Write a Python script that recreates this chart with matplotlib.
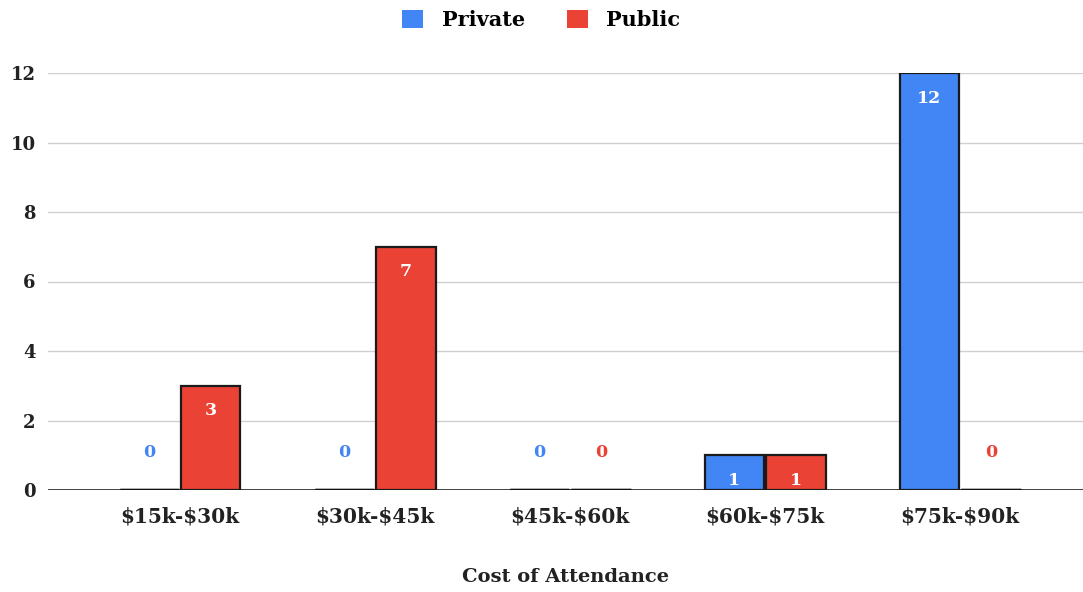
import numpy as np
import matplotlib
matplotlib.use("Agg")
import matplotlib.pyplot as plt

categories = ["$15k-$30k", "$30k-$45k", "$45k-$60k", "$60k-$75k", "$75k-$90k"]
private = [0, 0, 0, 1, 12]
public = [3, 7, 0, 1, 0]

BLUE = "#4285F4"
RED = "#EA4335"

plt.rcParams["font.family"] = ["DejaVu Serif"]
plt.rcParams["font.weight"] = "bold"
plt.rcParams["text.parse_math"] = False

fig = plt.figure(figsize=(10.83, 5.92), dpi=100)
ax = fig.add_axes([48 / 1083, 102 / 592, 1 - 48 / 1083, (490 - 73) / 592])

x = np.arange(len(categories))
w = 0.305
gap = 0.005
bars_priv = ax.bar(x - w / 2 - gap, private, w, color=BLUE, edgecolor="#1a1a1a",
                   linewidth=1.6, label="Private", zorder=3)
bars_pub = ax.bar(x + w / 2 + gap, public, w, color=RED, edgecolor="#1a1a1a",
                  linewidth=1.6, label="Public", zorder=3)

# empty bars show up as a dark stub on the baseline
for bars, vals in [(bars_priv, private), (bars_pub, public)]:
    for b, v in zip(bars, vals):
        if v == 0:
            ax.plot([b.get_x(), b.get_x() + b.get_width()], [0, 0],
                    color="#111111", linewidth=2.5, solid_capstyle="butt", zorder=3)

# value labels: white inside the bar, coloured above an empty bar
for bars, vals, col in [(bars_priv, private, BLUE), (bars_pub, public, RED)]:
    for b, v in zip(bars, vals):
        cx = b.get_x() + b.get_width() / 2
        if v > 0:
            ax.annotate(str(v), (cx, v), xytext=(0, -12), textcoords="offset points",
                        ha="center", va="top", color="white", fontsize=12.5,
                        fontweight="bold", zorder=4)
        else:
            ax.annotate(str(v), (cx, 0), xytext=(0, 27), textcoords="offset points",
                        ha="center", va="center", color=col, fontsize=12.5,
                        fontweight="bold", zorder=4)

ax.set_xlim(-0.677, 4.63)
ax.set_ylim(0, 12)
ax.set_yticks(range(0, 13, 2))
ax.set_xticks(x)
ax.set_xticklabels(categories, fontsize=14.5, fontweight="bold", color="#222222")
ax.tick_params(axis="y", length=0, pad=9, labelsize=13, labelcolor="#222222")
ax.tick_params(axis="x", length=0, pad=12)
for lbl in ax.get_yticklabels():
    lbl.set_fontweight("bold")

ax.grid(axis="y", color="#d0d0d0", linewidth=1, zorder=0)
ax.set_axisbelow(True)
for s in ax.spines.values():
    s.set_visible(False)
ax.axhline(0, color="#333333", linewidth=1.3, zorder=2)

ax.set_xlabel("Cost of Attendance", fontsize=14, fontweight="bold",
              color="#222222", labelpad=30)

fig.legend(handles=[bars_priv, bars_pub], labels=["Private", "Public"],
           loc="center", bbox_to_anchor=(0.5, 1 - 20 / 592), ncol=2,
           frameon=False, fontsize=15, handlelength=1.0, handleheight=1.0,
           columnspacing=2.0, handletextpad=0.9)
for h in fig.legends[0].legend_handles:
    h.set_edgecolor("none")

fig.savefig("out.png", dpi=100)
